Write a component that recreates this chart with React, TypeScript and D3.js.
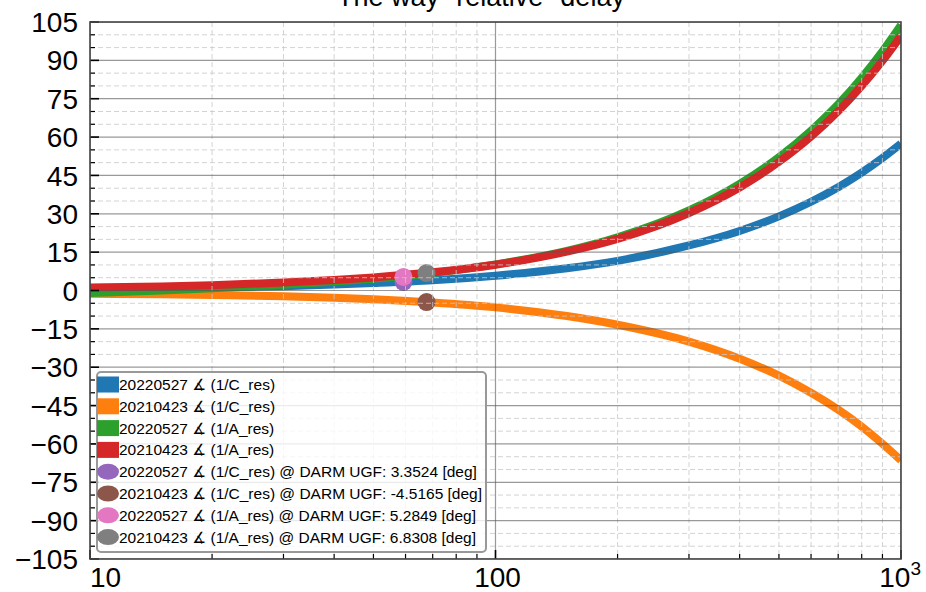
import React from "react";
import * as d3 from "d3";

const freqs = [10, 15, 20, 30, 40, 50, 70, 100, 150, 200, 300, 400, 500, 600, 700, 800, 900, 1000];
const blue2022C = [0.6, 0.9, 1.2, 1.7, 2.3, 2.9, 4.0, 5.8, 8.7, 11.6, 17.6, 23.3, 29.0, 34.7, 40.4, 46.1, 51.8, 57.4];
const orange2021C = [-1.3, -1.5, -1.8, -2.2, -2.8, -3.4, -4.7, -6.6, -10.0, -13.4, -20.0, -26.7, -33.3, -40.0, -46.6, -53.2, -59.9, -66.4];
const green2022A = [-1.0, 0.0, 0.9, 2.2, 3.5, 4.6, 6.8, 10.2, 15.5, 20.8, 31.3, 41.7, 52.1, 62.5, 72.8, 83.2, 93.5, 103.8];
const red2021A = [1.2, 1.6, 2.1, 3.1, 4.1, 5.1, 7.1, 10.1, 15.2, 20.2, 30.3, 40.3, 50.3, 60.2, 70.1, 80.0, 89.8, 99.6];

const ugfFreqs = [59.3, 67.6, 59.3, 67.6];
const ugfValues = [3.3524, -4.5165, 5.2849, 6.8308];

const lineLabels = [
  "20220527 ∡ (1/C_res)",
  "20210423 ∡ (1/C_res)",
  "20220527 ∡ (1/A_res)",
  "20210423 ∡ (1/A_res)",
];
const markerLabels = [
  "20220527 ∡ (1/C_res) @ DARM UGF: 3.3524 [deg]",
  "20210423 ∡ (1/C_res) @ DARM UGF: -4.5165 [deg]",
  "20220527 ∡ (1/A_res) @ DARM UGF: 5.2849 [deg]",
  "20210423 ∡ (1/A_res) @ DARM UGF: 6.8308 [deg]",
];
const yTicks = [-105, -90, -75, -60, -45, -30, -15, 0, 15, 30, 45, 60, 75, 90, 105];
const xTicks = [10, 100, 1000];
const title = "The way \"relative\" delay";

const lineColors = ["#1f77b4", "#ff7f0e", "#2ca02c", "#d62728"];
const markerColors = ["#9467bd", "#8c564b", "#e377c2", "#7f7f7f"];

const W = 926, H = 592;
const L = 90, R = 901, T = 22, B = 559;
const FONT = "'Liberation Sans', Arial, Helvetica, 'DejaVu Sans', sans-serif";

export default function App() {
  const x = d3.scaleLog().domain([10, 1000]).range([L, R]);
  const y = d3.scaleLinear().domain([-105, 105]).range([B, T]);
  const series = [blue2022C, orange2021C, green2022A, red2021A];
  const line = d3
    .line<number>()
    .x((_, i) => x(freqs[i]))
    .y((v) => y(v))
    .curve(d3.curveMonotoneX);

  const yMinor: number[] = [];
  for (let v = -105; v <= 105; v += 5) if (v % 15 !== 0) yMinor.push(v);
  const xMinor: number[] = [];
  [10, 100].forEach((d) => {
    for (let k = 2; k <= 9; k++) xMinor.push(d * k);
  });

  const legX = 97, legY = 372, legW = 389, legH = 180;
  const rowY0 = 384.5, rowDy = 21.8;

  return (
    <svg width={W} height={H} style={{ position: "absolute", left: 0, top: 0, background: "#fff" }} fontFamily={FONT}>
      <defs>
        <clipPath id="plotclip">
          <rect x={L} y={T} width={R - L} height={B - T} />
        </clipPath>
      </defs>
      <rect x={0} y={0} width={W} height={H} fill="#fff" />
      <text x={481} y={6} fontSize={27} textAnchor="middle" fill="#000">{title}</text>

      <g clipPath="url(#plotclip)">
        {series.map((s, i) => (
          <path key={i} d={line(s) || ""} fill="none" stroke={lineColors[i]} strokeWidth={8} />
        ))}
        {ugfFreqs.map((f, i) => (
          <circle key={i} cx={x(f)} cy={y(ugfValues[i])} r={9} fill={markerColors[i]} />
        ))}
        {yMinor.map((v) => (
          <line key={"ym" + v} x1={L} x2={R} y1={y(v)} y2={y(v)} stroke="#c8c8c8" strokeOpacity={0.8} strokeWidth={1} strokeDasharray="5,3" />
        ))}
        {xMinor.map((f) => (
          <line key={"xm" + f} x1={x(f)} x2={x(f)} y1={T} y2={B} stroke="#c8c8c8" strokeOpacity={0.8} strokeWidth={1} strokeDasharray="5,3" />
        ))}
        {yTicks.map((v) => (
          <line key={"yM" + v} x1={L} x2={R} y1={y(v)} y2={y(v)} stroke="#555" strokeOpacity={0.6} strokeWidth={1.2} />
        ))}
        {xTicks.map((f) => (
          <line key={"xM" + f} x1={x(f)} x2={x(f)} y1={T} y2={B} stroke="#555" strokeOpacity={0.6} strokeWidth={1.2} />
        ))}
      </g>

      {yTicks.map((v) => (
        <line key={"ytk" + v} x1={L} x2={L + 9} y1={y(v)} y2={y(v)} stroke="#000" strokeWidth={1.6} />
      ))}
      {yMinor.map((v) => (
        <line key={"ytm" + v} x1={L} x2={L + 5} y1={y(v)} y2={y(v)} stroke="#000" strokeWidth={1.2} />
      ))}
      {xTicks.map((f) => (
        <line key={"xtk" + f} x1={x(f)} x2={x(f)} y1={B} y2={B - 9} stroke="#000" strokeWidth={1.6} />
      ))}
      {xMinor.map((f) => (
        <line key={"xtm" + f} x1={x(f)} x2={x(f)} y1={B} y2={B - 5} stroke="#000" strokeWidth={1.2} />
      ))}

      <rect x={L} y={T} width={R - L} height={B - T} fill="none" stroke="#444" strokeWidth={1.6} />

      {yTicks.map((v) => (
        <text key={"yl" + v} x={78} y={y(v)} dy="0.36em" fontSize={28} textAnchor="end" fill="#000">
          {v < 0 ? "\u2212" + Math.abs(v) : String(v)}
        </text>
      ))}
      <text x={90} y={587} fontSize={28} textAnchor="start" fill="#000">10</text>
      <text x={x(100) + 2} y={587} fontSize={28} textAnchor="middle" fill="#000">100</text>
      <text x={921} y={587} fontSize={28} textAnchor="end" fill="#000">
        10<tspan fontSize={19} dy={-12}>3</tspan>
      </text>

      <rect x={legX} y={legY} width={legW} height={legH} rx={4} fill="#fff" fillOpacity={0.8} stroke="#999" strokeWidth={2} />
      {lineLabels.map((lab, i) => {
        const cy = rowY0 + i * rowDy;
        return (
          <g key={"ll" + i}>
            <rect x={97} y={cy - 8} width={22} height={16} fill={lineColors[i]} />
            <text x={119} y={cy} dy="0.36em" fontSize={15.5} fill="#000">{lab}</text>
          </g>
        );
      })}
      {markerLabels.map((lab, i) => {
        const cy = rowY0 + (i + 4) * rowDy;
        return (
          <g key={"ml" + i}>
            <ellipse cx={108} cy={cy} rx={11} ry={8} fill={markerColors[i]} />
            <text x={119} y={cy} dy="0.36em" fontSize={15.5} fill="#000">{lab}</text>
          </g>
        );
      })}
    </svg>
  );
}
